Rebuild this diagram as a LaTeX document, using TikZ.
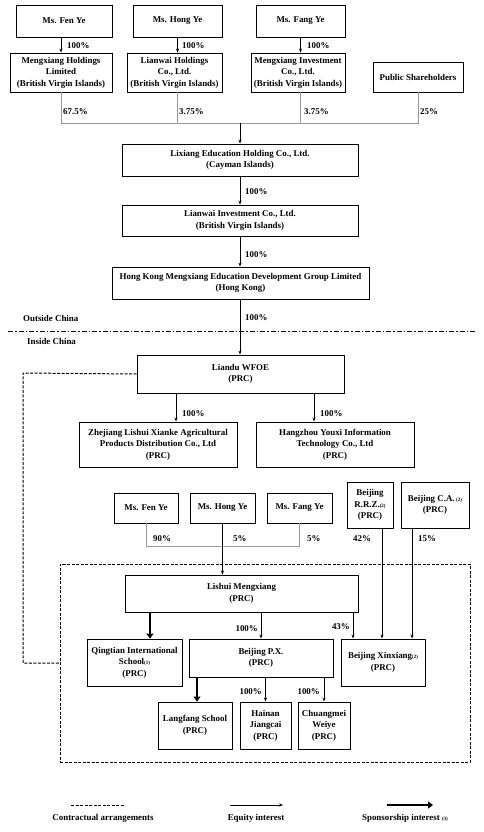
\documentclass[tikz,border=0pt]{standalone}
\usepackage{fontspec}
\setmainfont{Liberation Serif}
\usetikzlibrary{arrows.meta}
\newcommand\nt[1]{{\fontsize{5}{5}\selectfont(#1)}}
\newcommand\mybox[6]{\node[box,minimum width={(#4-#2)*1pt},minimum height={(#5-#3)*1pt}] (#1) at ({(#2+#4)/2},{(#3+#5)/2}) {#6};}
\begin{document}
\begin{tikzpicture}[x=1pt,y=-1pt,
 box/.style={draw, line width=0.9pt, align=center, inner sep=1pt, font=\fontsize{8.9}{11.6}\selectfont\bfseries},
 pct/.style={font=\fontsize{8.9}{11.6}\selectfont\bfseries, inner sep=1pt},
 eq/.style={line width=0.7pt, -{Stealth[length=4pt,width=3pt]}},
 gl/.style={line width=0.7pt, draw=black!40},
 sp/.style={line width=2.2pt, -{Triangle[length=5pt,width=7pt]}},
 ca/.style={line width=1pt, dash pattern=on 3pt off 1.5pt},
 ]
\useasboundingbox (0,0) rectangle (483,832);
% top owners
\mybox{fenA}{16}{5}{112}{37}{Ms. Fen Ye}
\mybox{hongA}{133}{5}{222}{37}{Ms. Hong Ye}
\mybox{fangA}{256}{5}{345}{37}{Ms. Fang Ye}
\mybox{mh}{10}{53}{112}{92}{Mengxiang Holdings\\Limited\\(British Virgin Islands)}
\mybox{lh}{127}{53}{222}{92}{Lianwai Holdings\\Co., Ltd.\\(British Virgin Islands)}
\mybox{mi}{251}{53}{345}{92}{Mengxiang Investment\\Co., Ltd.\\(British Virgin Islands)}
\mybox{pub}{373}{62}{463}{92}{Public Shareholders}
\draw[eq] (fenA.south -| mh.north) -- (mh.north);
\draw[eq] (hongA.south) -- (hongA.south |- lh.north);
\draw[eq] (fangA.south) -- (fangA.south |- mi.north);
\node[pct,anchor=west] (pA1) at (66,46) {100\%};
\node[pct,anchor=west] (pA2) at (181,46) {100\%};
\node[pct,anchor=west] (pA3) at (306,46) {100\%};
\coordinate (j) at (240,123);
\draw[gl] (mh.south) -- (mh.south |- j) -- (pub.south |- j) -- (pub.south);
\draw[gl] (hongA.south |- lh.south) -- (hongA.south |- j);
\draw[gl] (fangA.south |- mi.south) -- (fangA.south |- j);
\node[pct,anchor=west] (pB1) at (62,112) {67.5\%};
\node[pct,anchor=west] (pB2) at (178,112) {3.75\%};
\node[pct,anchor=west] (pB3) at (303,112) {3.75\%};
\node[pct,anchor=west] (pB4) at (419,112) {25\%};
% chain
\mybox{lix}{122}{144}{358}{176}{Lixiang Education Holding Co., Ltd.\\(Cayman Islands)}
\mybox{lwi}{122}{205}{358}{236}{Lianwai Investment Co., Ltd.\\(British Virgin Islands)}
\mybox{hk}{112}{267}{369}{299}{Hong Kong Mengxiang Education Development Group Limited\\(Hong Kong)}
\mybox{liandu}{137}{355}{344}{393}{Liandu WFOE\\(PRC)}
\draw[eq] (j) -- (lix.north);
\draw[eq] (lix.south) -- (lwi.north);
\draw[eq] (lwi.south) -- (lwi.south |- hk.north);
\draw[eq] (lwi.south |- hk.south) -- (lwi.south |- liandu.north);
\node[pct,anchor=west] (pC1) at (244,192) {100\%};
\node[pct,anchor=west] (pC2) at (244,255) {100\%};
\node[pct,anchor=west] (pC3) at (244,318) {100\%};
\node[pct,anchor=west] (outc) at (22,318) {Outside China};
\node[pct,anchor=west] (inc) at (26,341) {Inside China};
\coordinate (dl) at (8,331);
\coordinate (dr) at (477,331);
\draw[line width=0.9pt, dash pattern=on 5pt off 2pt on 1.5pt off 2pt] (dl) -- (dr);
% WFOE subs
\mybox{zj}{79}{422}{237}{467}{Zhejiang Lishui Xianke Agricultural\\Products Distribution Co., Ltd\\(PRC)}
\mybox{hz}{256}{422}{414}{467}{Hangzhou Youxi Information\\Technology Co., Ltd\\(PRC)}
\draw[eq] ([xshift=18pt]zj.north |- liandu.south) -- ([xshift=18pt]zj.north);
\draw[eq] ([xshift=-21pt]hz.north |- liandu.south) -- ([xshift=-21pt]hz.north);
\node[pct,anchor=west] (pD1) at (181,414) {100\%};
\node[pct,anchor=west] (pD2) at (319,414) {100\%};
% second owners
\mybox{fenB}{114}{493}{178}{523}{Ms. Fen Ye}
\mybox{hongB}{190}{493}{255}{523}{Ms. Hong Ye}
\mybox{fangB}{267}{493}{332}{523}{Ms. Fang Ye}
\mybox{rrz}{347}{482}{393}{528}{Beijing\\R.R.Z.\nt{2}\\(PRC)}
\mybox{bca}{401}{482}{469}{528}{Beijing C.A.\,\nt{2}\\(PRC)}
% VIE box
\node[draw, ca, minimum width=410pt, minimum height=198pt, inner sep=0pt] (vie) at (265,663) {};
\mybox{lishui}{125}{575}{358}{612}{Lishui Mengxiang\\(PRC)}
\mybox{qt}{87}{639}{182}{686}{Qingtian International\\School\nt{1}\\(PRC)}
\mybox{px}{189}{639}{333}{677}{Beijing P.X.\\(PRC)}
\mybox{xx}{341}{639}{425}{686}{Beijing Xinxiang\nt{2}\\(PRC)}
\mybox{lf}{158}{702}{232}{749}{Langfang School\\(PRC)}
\mybox{hn}{240}{702}{291}{749}{Hainan\\Jiangcai\\(PRC)}
\mybox{cm}{298}{702}{350}{749}{Chuangmei\\Weiye\\(PRC)}
\coordinate (j2) at (222,546);
\draw[gl] (fenB.south) -- (fenB.south |- j2) -- (fangB.south |- j2) -- (fangB.south);
\draw[eq] (hongB.south) -- (hongB.south |- lishui.north);
\draw[eq] ([xshift=12pt]rrz.south) -- ([xshift=12pt]rrz.south |- xx.north);
\draw[eq] ([xshift=-23pt]bca.south) -- ([xshift=-23pt]bca.south |- xx.north);
\node[pct,anchor=west] (pE1) at (152,539) {90\%};
\node[pct,anchor=west] (pE2) at (232,539) {5\%};
\node[pct,anchor=west] (pE3) at (306,539) {5\%};
\node[pct,anchor=west] (pE4) at (352,539) {42\%};
\node[pct,anchor=west] (pE5) at (417,539) {15\%};
\draw[sp] ([xshift=15.5pt]qt.north |- lishui.south) -- ([xshift=15.5pt]qt.north);
\draw[eq] (lishui.south -| px.north) -- (px.north);
\draw[eq] ([xshift=-30pt]xx.north |- lishui.south) -- ([xshift=-30pt]xx.north);
\node[pct,anchor=east] (pF1) at (259,629) {100\%};
\node[pct,anchor=east] (pF2) at (351,627) {43\%};
\draw[sp] ([xshift=2pt]lf.north |- px.south) -- ([xshift=2pt]lf.north);
\draw[eq] (hn.north |- px.south) -- (hn.north);
\draw[eq] (cm.north |- px.south) -- (cm.north);
\node[pct,anchor=east] (pG1) at (263,692) {100\%};
\node[pct,anchor=east] (pG2) at (321,692) {100\%};
% contractual line
\coordinate (cl) at (23,373);
\draw[ca] (liandu.west) -- (cl) |- (vie.west);
% legend
\coordinate (la1) at (71,805); \coordinate (la2) at (124,805);
\coordinate (lb1) at (230,805); \coordinate (lb2) at (283,805);
\coordinate (lc1) at (387,805); \coordinate (lc2) at (433,805);
\draw[ca] (la1) -- (la2);
\draw[eq] (lb1) -- (lb2);
\draw[sp] (lc1) -- (lc2);
\node[pct] (ta) at (103,818) {Contractual arrangements};
\node[pct] (tb) at (256,818) {Equity interest};
\node[pct] (tc) at (405,818) {Sponsorship interest \nt{3}};
\end{tikzpicture}
\end{document}
